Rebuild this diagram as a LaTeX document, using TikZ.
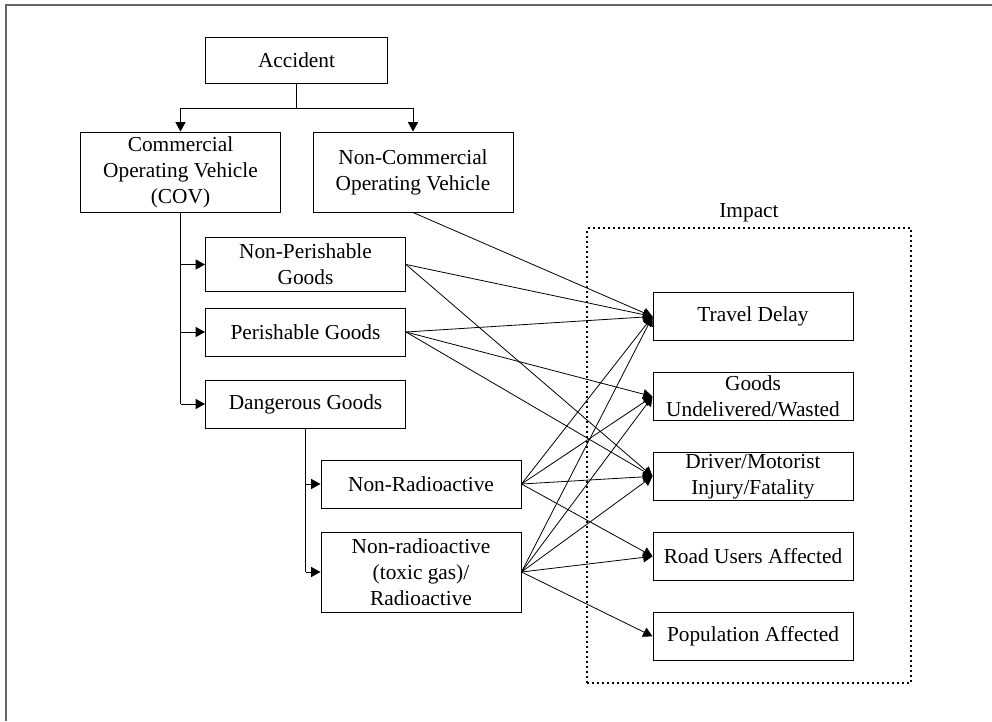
\documentclass[tikz,border=0pt]{standalone}
\usepackage{fontspec}
\setmainfont{Liberation Serif}
\usetikzlibrary{arrows.meta}
\tikzstyle{block} = [draw, line width=0.75pt, align=center, minimum width=150pt,
                     minimum height=36pt, inner sep=1pt, font=\fontsize{16}{19.5}\selectfont]
\tikzstyle{tall block} = [block, minimum height=60pt]
\tikzstyle{tree} = [draw, line width=0.75pt]
\tikzstyle{tree arrow} = [tree, -{Triangle[length=7pt,width=7.5pt]}]
\tikzstyle{link} = [draw, line width=0.6pt, -{Triangle[length=7pt,width=7.5pt]}]
\tikzstyle{impact box} = [draw, line width=1.5pt, dash pattern=on 1.5pt off 2.25pt,
                          minimum width=243pt, minimum height=341pt]
\tikzstyle{frame} = [draw, line width=1.1pt, black!60]

\begin{document}
\begin{tikzpicture}[x=0.75pt, y=-0.75pt]
    \useasboundingbox (0,0) rectangle (992,721);
    \path[frame] (992,5) -- (6,5) -- (6,721);

    % left hand side
    \node[block, minimum width=137pt, minimum height=35pt] (acc) at (296.5,60.5) {Accident};
    \node[tall block] (cov) at (180.5,172) {Commercial\\Operating Vehicle\\(COV)};
    \node[tall block] (ncov) at (413,172) {Non-Commercial\\Operating Vehicle};
    \node[block, minimum height=41pt] (np) at (305.5,264.5) {Non-Perishable\\Goods};
    \foreach \pos/\name/\txt in {{(305.5,332)/pg/Perishable Goods},
                                 {(305.5,404)/dg/Dangerous Goods},
                                 {(421,484)/nr/Non-Radioactive}}
        \node[block] (\name) at \pos {\txt};
    \node[tall block] (tox) at (421,572) {Non-radioactive\\(toxic gas)/\\Radioactive};

    % impacts
    \node[impact box] (impact) at (749,455.5) {};
    \node[above, font=\fontsize{16}{19.5}\selectfont] (impactlabel) at (impact.north) {Impact};
    \foreach \y/\name/\txt in {316.5/td/{Travel Delay}, 396.5/gu/{Goods\\Undelivered/Wasted},
                               476.3/dm/{Driver/Motorist\\Injury/Fatality},
                               556.3/ru/{Road Users Affected}, 636.3/pa/{Population Affected}}
        \node[block] (\name) at (753,\y) {\txt};

    % tree
    \path[tree arrow] (acc.south) -- ++(0,24) -| (cov.north);
    \path[tree arrow] (acc.south) -- ++(0,24) -| (ncov.north);
    \path[tree] (cov.south) -- (cov.south |- dg.west);
    \foreach \n in {np,pg,dg}
        \path[tree arrow] (cov.south |- \n.west) -- (\n.west);
    \path[tree] (dg.south) -- (dg.south |- tox.west);
    \foreach \n in {nr,tox}
        \path[tree arrow] (dg.south |- \n.west) -- (\n.west);

    % links to impacts
    \foreach \source/\dest in {ncov.south/td, np.east/td, pg.east/td, nr.east/td, tox.east/td,
                               pg.east/gu, nr.east/gu, tox.east/gu,
                               np.east/dm, pg.east/dm, nr.east/dm, tox.east/dm,
                               nr.east/ru, tox.east/ru, tox.east/pa}
        \path[link] (\source) -- (\dest.west);
\end{tikzpicture}
\end{document}
